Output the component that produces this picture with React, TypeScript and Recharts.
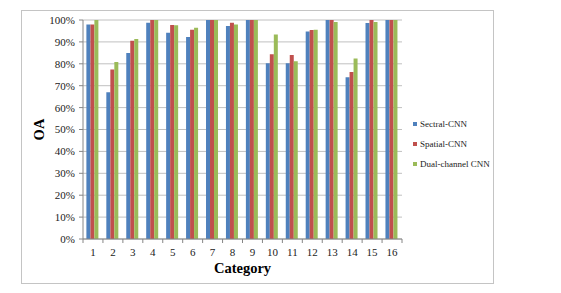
import React from "react";
import { BarChart, Bar, XAxis, YAxis, CartesianGrid, Label } from "recharts";

const categories = ["1", "2", "3", "4", "5", "6", "7", "8", "9", "10", "11", "12", "13", "14", "15", "16"];
const sectralCNN = [0.98, 0.67, 0.849, 0.988, 0.942, 0.922, 1.0, 0.973, 1.0, 0.802, 0.802, 0.947, 1.0, 0.739, 0.986, 1.0];
const spatialCNN = [0.98, 0.774, 0.905, 1.0, 0.977, 0.956, 1.0, 0.988, 1.0, 0.844, 0.84, 0.954, 1.0, 0.762, 1.0, 1.0];
const dualCNN = [1.0, 0.808, 0.913, 1.0, 0.976, 0.965, 1.0, 0.98, 1.0, 0.934, 0.812, 0.956, 0.991, 0.824, 0.991, 1.0];
const yTicks = [0, 0.1, 0.2, 0.3, 0.4, 0.5, 0.6, 0.7, 0.8, 0.9, 1.0];
const seriesNames = ["Sectral-CNN", "Spatial-CNN", "Dual-channel CNN"];
const colors = ["#4F81BD", "#C0504D", "#9BBB59"];

const data = categories.map((c, i) => ({
  cat: c,
  s1: sectralCNN[i],
  s2: spatialCNN[i],
  s3: dualCNN[i],
}));

const FONT = "'Liberation Serif', 'Times New Roman', serif";
const W = 561;
const H = 293;
const M = { top: 20, right: 159, bottom: 34, left: 23 };
const YW = 60;
const XH = 20;
const PLOT_W = W - M.left - M.right - YW;
const BAND = PLOT_W / categories.length;

const CatTick = (props: any) => {
  const { x, y, payload, index } = props;
  const axisY = y - 9;
  return (
    <g>
      <line x1={x - BAND / 2} x2={x - BAND / 2} y1={axisY} y2={axisY + 4} stroke="#868686" />
      {index === categories.length - 1 && (
        <line x1={x + BAND / 2} x2={x + BAND / 2} y1={axisY} y2={axisY + 4} stroke="#868686" />
      )}
      <text x={x} y={y} dy="0.71em" textAnchor="middle" fontSize={11} fontFamily={FONT} fill="#222">
        {payload.value}
      </text>
    </g>
  );
};

const LegendBox = () => (
  <div style={{ position: "absolute", left: 413, top: 114, fontFamily: FONT, fontSize: 9, color: "#222" }}>
    {seriesNames.map((n, i) => (
      <div key={n} style={{ display: "flex", alignItems: "center", height: 20 }}>
        <span style={{ display: "inline-block", width: 4, height: 4, background: colors[i], marginRight: 3 }} />
        <span>{n}</span>
      </div>
    ))}
  </div>
);

export default function App() {
  return (
    <div style={{ position: "absolute", left: 0, top: 0, width: W, height: H, background: "#fff" }}>
      <div
        style={{
          position: "absolute",
          left: 21,
          top: 10,
          width: 471,
          height: 272,
          border: "1px solid #c4c4c4",
        }}
      />
      <div style={{ position: "absolute", left: 0, top: 0 }}>
        <BarChart width={W} height={H} data={data} margin={M} barCategoryGap="17%" barGap={0}>
          <CartesianGrid vertical={false} stroke="#c0c0c0" />
          <XAxis
            dataKey="cat"
            height={XH}
            tickLine={false}
            tickSize={0}
            tickMargin={9}
            tick={<CatTick />}
            stroke="#868686"
            interval={0}
          >
            <Label
              value="Category"
              position="insideBottom"
              offset={-14}
              style={{ fontFamily: FONT, fontSize: 14.5, fontWeight: "bold", fill: "#000" }}
            />
          </XAxis>
          <YAxis
            width={YW}
            domain={[0, 1]}
            ticks={yTicks}
            tickFormatter={(v: number) => `${Math.round(v * 100)}%`}
            tickSize={4}
            tickMargin={4}
            stroke="#868686"
            tick={{ fontSize: 11, fontFamily: FONT, fill: "#222" }}
            interval={0}
          >
            <Label
              value="OA"
              angle={-90}
              position="insideLeft"
              offset={16}
              style={{ fontFamily: FONT, fontSize: 14.5, fontWeight: "bold", fill: "#000", textAnchor: "middle" }}
            />
          </YAxis>
          <Bar dataKey="s1" name={seriesNames[0]} fill={colors[0]} isAnimationActive={false} />
          <Bar dataKey="s2" name={seriesNames[1]} fill={colors[1]} isAnimationActive={false} />
          <Bar dataKey="s3" name={seriesNames[2]} fill={colors[2]} isAnimationActive={false} />
        </BarChart>
      </div>
      <LegendBox />
    </div>
  );
}
